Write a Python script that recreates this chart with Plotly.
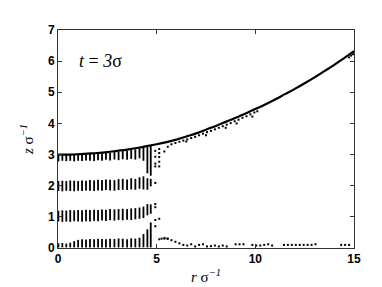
import plotly.graph_objects as go

# ---- data ----
# surface (solid line)
surf_r = [0, 0.5, 1, 1.5, 2, 2.5, 3, 3.5, 4, 4.5, 5, 5.5, 6, 6.5, 7, 7.5, 8, 8.5,
          9, 9.5, 10, 10.5, 11, 11.5, 12, 12.5, 13, 13.5, 14, 14.5, 15]
surf_z = [3.00, 3.00, 3.01, 3.03, 3.05, 3.08, 3.12, 3.16, 3.21, 3.27, 3.33, 3.40,
          3.48, 3.58, 3.68, 3.80, 3.92, 4.05, 4.18, 4.32, 4.46, 4.61, 4.77, 4.94,
          5.11, 5.29, 5.48, 5.68, 5.88, 6.10, 6.32]

# columns of particle layers (vertical dashes) for r < 5
col_r = [0.02, 0.22, 0.42, 0.62, 0.82, 1.02, 1.22, 1.42, 1.62, 1.83, 2.03, 2.23,
         2.43, 2.64, 2.86, 3.07, 3.28, 3.50, 3.71, 3.92, 4.13, 4.33, 4.53, 4.70]
layer3_lo = [2.78, 2.80, 2.79, 2.80, 2.78, 2.80, 2.79, 2.81, 2.80, 2.79, 2.82, 2.80,
             2.83, 2.81, 2.84, 2.82, 2.85, 2.83, 2.86, 2.84, 2.88, 2.80, 2.40, 2.32]
layer3_hi = [2.99, 2.99, 2.99, 3.00, 3.00, 3.00, 3.01, 3.01, 3.02, 3.02, 3.03, 3.04,
             3.05, 3.06, 3.08, 3.09, 3.11, 3.13, 3.15, 3.17, 3.19, 3.22, 3.28, 3.28]
layer2_lo = [1.83, 1.82, 1.84, 1.83, 1.82, 1.84, 1.83, 1.85, 1.84, 1.83, 1.85, 1.84,
             1.86, 1.85, 1.84, 1.86, 1.87, 1.86, 1.88, 1.87, 1.90, 1.88, 1.87, 1.98]
layer2_hi = [2.15, 2.16, 2.15, 2.17, 2.16, 2.15, 2.17, 2.16, 2.18, 2.17, 2.19, 2.18,
             2.20, 2.19, 2.18, 2.21, 2.22, 2.20, 2.24, 2.22, 2.27, 2.30, 2.24, 2.22]
layer1_lo = [0.85, 0.84, 0.85, 0.84, 0.86, 0.85, 0.84, 0.86, 0.85, 0.87, 0.86, 0.88,
             0.87, 0.89, 0.88, 0.90, 0.89, 0.91, 0.90, 0.92, 0.94, 0.96, 1.05, 1.10]
layer1_hi = [1.20, 1.21, 1.20, 1.22, 1.21, 1.22, 1.21, 1.23, 1.22, 1.23, 1.22, 1.24,
             1.23, 1.25, 1.24, 1.25, 1.26, 1.25, 1.27, 1.28, 1.30, 1.33, 1.41, 1.40]
layer0_lo = [0.02, 0.02, 0.02, 0.02, 0.02, 0.02, 0.02, 0.02, 0.02, 0.02, 0.02, 0.02,
             0.02, 0.02, 0.02, 0.02, 0.02, 0.02, 0.02, 0.02, 0.02, 0.02, 0.02, 0.02]
layer0_hi = [0.15, 0.16, 0.14, 0.17, 0.22, 0.26, 0.28, 0.27, 0.29, 0.28, 0.30, 0.29,
             0.28, 0.30, 0.29, 0.31, 0.30, 0.28, 0.31, 0.30, 0.33, 0.45, 0.60, 0.82]

# scattered particles (dots) for r > 4.8
dot_r = [4.93, 4.93, 4.93, 4.93, 4.93, 4.93, 4.93, 4.93, 4.93,
         5.13, 5.13, 5.13, 5.13, 5.13, 5.13, 5.13,
         5.39, 5.39, 5.56, 5.56,
         5.75, 5.95, 6.15, 6.35, 6.55, 6.75, 6.95, 7.15, 7.35, 7.55, 7.75, 7.95,
         8.15, 8.35, 8.55, 8.75, 8.95, 9.15, 9.35, 9.55, 9.75, 9.95, 10.1,
         6.50, 7.50, 8.50, 9.05, 9.85,
         14.75, 14.85, 14.95,
         5.25, 5.40, 5.55, 5.75, 5.95, 6.15, 6.35, 6.55, 6.75, 6.95, 7.15, 7.35,
         7.55, 7.75, 7.95, 8.15, 8.35, 8.55, 9.00, 9.20, 9.40, 9.85, 10.05, 10.25,
         10.45, 10.65, 10.85, 11.45, 11.65, 11.85, 12.05, 12.25, 12.45, 12.65,
         12.85, 13.05, 14.35, 14.55, 14.75]
dot_z = [3.12, 2.93, 2.71, 2.62, 2.09, 1.41, 1.31, 0.90, 0.70,
         3.18, 3.05, 2.92, 2.77, 2.62, 0.94, 0.28,
         3.10, 0.30, 3.25, 0.30,
         3.33, 3.37, 3.41, 3.45, 3.49, 3.53, 3.57, 3.62, 3.67, 3.72, 3.76, 3.81,
         3.86, 3.91, 3.96, 4.01, 4.07, 4.12, 4.18, 4.23, 4.29, 4.35, 4.39,
         3.42, 3.62, 3.86, 4.00, 4.22,
         6.12, 6.18, 6.22,
         0.30, 0.32, 0.30, 0.25, 0.20, 0.15, 0.10, 0.08, 0.12, 0.05, 0.10, 0.12,
         0.05, 0.06, 0.08, 0.05, 0.08, 0.05, 0.12, 0.12, 0.12, 0.10, 0.08, 0.08,
         0.10, 0.12, 0.08, 0.10, 0.10, 0.10, 0.10, 0.10, 0.10, 0.10,
         0.10, 0.12, 0.10, 0.10, 0.10]

# ---- build segments from the arrays ----
seg_x, seg_y = [], []
for lo_list, hi_list in [(layer3_lo, layer3_hi), (layer2_lo, layer2_hi),
                         (layer1_lo, layer1_hi), (layer0_lo, layer0_hi)]:
    for r, lo, hi in zip(col_r, lo_list, hi_list):
        seg_x += [r, r, None]
        seg_y += [lo, hi, None]

fig = go.Figure()
fig.add_trace(go.Scatter(x=seg_x, y=seg_y, mode="lines",
                         line=dict(color="black", width=1.8), hoverinfo="skip",
                         showlegend=False))
fig.add_trace(go.Scatter(x=dot_r, y=dot_z, mode="markers",
                         marker=dict(color="black", size=2, symbol="square",
                                     line=dict(width=0)),
                         showlegend=False))
fig.add_trace(go.Scatter(x=surf_r, y=surf_z, mode="lines",
                         line=dict(color="black", width=2.2, shape="spline"),
                         showlegend=False))

axis_common = dict(showline=True, linecolor="#333333", linewidth=1, mirror="ticks",
                   ticks="inside", ticklen=4, tickcolor="#333333", showgrid=False,
                   zeroline=False,
                   tickfont=dict(family="Liberation Sans, Arial", size=12, color="black",
                                 weight="bold"))
fig.update_xaxes(range=[0, 15], tickvals=[0, 5, 10, 15],
                 title=dict(text="<i>r</i> σ<sup><i>−1</i></sup>", standoff=6,
                            font=dict(family="Liberation Serif, Times New Roman",
                                      size=15, color="black")),
                 **axis_common)
fig.update_yaxes(range=[0, 7], tickvals=[0, 1, 2, 3, 4, 5, 6, 7],
                 title=dict(text="<i>z</i> σ<sup><i>−1</i></sup>", standoff=10,
                            font=dict(family="Liberation Serif, Times New Roman",
                                      size=15, color="black")),
                 **axis_common)

fig.add_annotation(x=0.95, y=6.0, xref="x", yref="y", xanchor="left", yanchor="middle",
                   text="<i>t</i> = <i>3</i>σ", showarrow=False,
                   font=dict(family="Liberation Serif, Times New Roman", size=18,
                             color="black"))

fig.update_layout(width=382, height=287, paper_bgcolor="white", plot_bgcolor="white",
                  margin=dict(l=50, r=36, t=22, b=40))
fig.write_html("out.html")
